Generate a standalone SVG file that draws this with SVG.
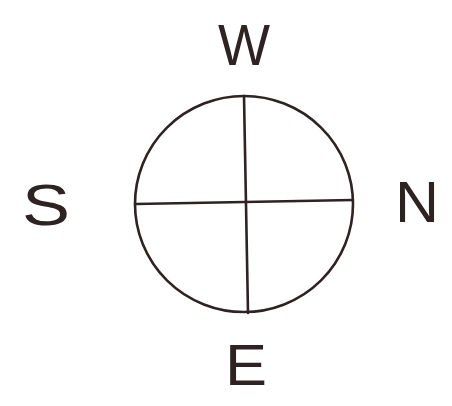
<svg xmlns="http://www.w3.org/2000/svg" width="452" height="406" viewBox="0 0 452 406">
<style>
.ln{fill:none;stroke:#2e2222;stroke-width:2.6;stroke-linecap:round}
.lb{font-family:"Liberation Sans",Arial,sans-serif;font-size:58px;fill:#2e2222;text-anchor:middle}
</style>
<rect width="452" height="406" fill="#ffffff"/>
<g id="compass">
<ellipse class="ln" cx="244" cy="204" rx="109" ry="108"/>
</g>
<g id="connectors">
<path class="ln" d="M244 96 L248 313"/>
<path class="ln" d="M136 204 L353 200"/>
</g>
<g id="W"><text class="lb" x="244" y="65" textLength="52" lengthAdjust="spacingAndGlyphs">W</text></g>
<g id="S"><text class="lb" x="46" y="225" textLength="48" lengthAdjust="spacingAndGlyphs">S</text></g>
<g id="N"><text class="lb" x="417" y="222" textLength="44" lengthAdjust="spacingAndGlyphs">N</text></g>
<g id="E"><text class="lb" x="246" y="385" textLength="42" lengthAdjust="spacingAndGlyphs">E</text></g>
</svg>
